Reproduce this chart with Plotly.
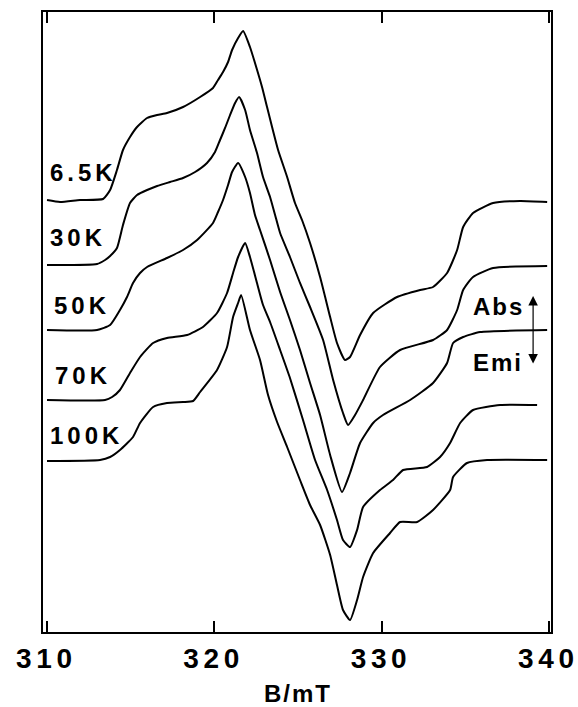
import plotly.graph_objects as go

# EPR spectra, B in mT, intensity in arbitrary units (relative to each baseline)
temps = ["6.5K", "30K", "50K", "70K", "100K"]
offsets = [4.32, 3.67, 3.02, 2.32, 1.71]

b_65 = [310.0, 310.78, 311.97, 313.35, 313.77, 314.18, 314.54, 314.96, 315.38, 315.98, 316.58, 317.17,
        318.13, 319.15, 319.92, 320.22, 320.52, 320.82, 321.06, 321.42, 321.72, 322.13, 322.43, 322.85,
        323.15, 323.45, 323.81, 324.35, 324.82, 325.24, 325.72, 326.32, 326.92, 327.33, 327.81, 328.11,
        328.71, 329.49, 330.92, 332.30, 333.07, 333.91, 334.51, 334.87, 335.46, 336.66, 338.27, 339.89]
i_65 = [0, -0.02, 0, 0.01, 0.10, 0.30, 0.50, 0.63, 0.73, 0.82, 0.85, 0.87, 0.93, 1.03, 1.12, 1.20, 1.28,
        1.38, 1.50, 1.62, 1.69, 1.53, 1.37, 1.13, 0.93, 0.73, 0.50, 0.23, -0.03, -0.20, -0.43, -0.77,
        -1.17, -1.43, -1.60, -1.57, -1.35, -1.13, -0.97, -0.90, -0.87, -0.73, -0.50, -0.27, -0.13, -0.03,
        -0.01, -0.02]

b_30 = [310.0, 312.99, 313.47, 313.77, 314.18, 314.54, 314.96, 315.38, 315.98, 316.58, 317.35, 318.13,
        318.85, 319.56, 320.04, 320.34, 320.64, 320.94, 321.24, 321.48, 321.84, 322.13, 322.55, 322.91,
        323.33, 323.63, 323.93, 324.52, 325.12, 325.72, 326.50, 327.10, 327.69, 327.99, 328.41, 328.89,
        329.90, 331.10, 333.07, 333.91, 334.51, 334.87, 335.46, 336.66, 339.89]
i_30 = [0, 0.01, 0.05, 0.09, 0.17, 0.40, 0.62, 0.70, 0.75, 0.79, 0.83, 0.87, 0.93, 1.02, 1.13, 1.25, 1.37,
        1.50, 1.62, 1.68, 1.55, 1.35, 1.12, 0.88, 0.68, 0.50, 0.32, 0.08, -0.18, -0.42, -0.75, -1.15,
        -1.48, -1.60, -1.50, -1.35, -1.02, -0.85, -0.75, -0.65, -0.45, -0.25, -0.12, -0.03, -0.01]

b_50 = [310.0, 312.99, 313.77, 314.36, 314.78, 315.14, 315.56, 315.98, 317.17, 318.13, 318.97, 319.92,
        320.22, 320.52, 320.82, 321.06, 321.42, 321.84, 322.13, 322.43, 322.73, 323.33, 323.93, 324.52,
        325.12, 325.72, 326.32, 326.92, 327.63, 328.11, 328.71, 329.49, 330.08, 331.70, 333.07, 333.91,
        334.27, 334.87, 335.88, 339.89]
i_50 = [0, 0, 0.05, 0.20, 0.33, 0.47, 0.57, 0.63, 0.72, 0.80, 0.90, 1.07, 1.18, 1.30, 1.45, 1.58, 1.67,
        1.53, 1.37, 1.15, 1.00, 0.70, 0.38, 0.10, -0.20, -0.53, -0.85, -1.25, -1.62, -1.43, -1.13, -0.93,
        -0.85, -0.70, -0.53, -0.33, -0.13, -0.07, -0.02, 0]

b_70 = [310.0, 313.47, 313.89, 314.36, 314.96, 315.56, 316.34, 317.17, 318.37, 319.32, 320.16, 320.76,
        321.12, 321.42, 321.84, 322.13, 322.55, 322.91, 323.33, 323.93, 324.52, 325.30, 326.02, 326.74,
        327.33, 327.69, 328.11, 328.53, 328.89, 329.90, 330.68, 331.28, 332.71, 333.49, 334.09, 334.69,
        335.46, 337.08, 339.29]
i_70 = [0, 0, 0.03, 0.10, 0.27, 0.43, 0.57, 0.62, 0.65, 0.73, 0.87, 1.07, 1.27, 1.43, 1.57, 1.43, 1.17,
        0.95, 0.78, 0.50, 0.22, -0.20, -0.60, -0.90, -1.20, -1.40, -1.47, -1.30, -1.07, -0.90, -0.80,
        -0.70, -0.67, -0.57, -0.43, -0.23, -0.10, -0.05, -0.05]

b_100 = [310.0, 313.17, 313.77, 314.36, 315.14, 315.56, 316.34, 317.17, 318.13, 318.73, 319.15, 320.16,
         320.76, 321.12, 321.42, 321.60, 322.13, 322.73, 323.21, 323.75, 324.35, 325.12, 325.72, 326.32,
         326.92, 327.33, 327.69, 328.11, 328.53, 328.89, 329.49, 330.50, 331.10, 332.12, 333.07, 334.09,
         334.27, 335.10, 336.30, 339.89]
i_100 = [0, 0.01, 0.04, 0.11, 0.24, 0.38, 0.54, 0.58, 0.59, 0.60, 0.69, 0.91, 1.14, 1.44, 1.58, 1.66,
         1.31, 1.01, 0.66, 0.39, 0.14, -0.19, -0.44, -0.64, -0.94, -1.24, -1.49, -1.59, -1.39, -1.16,
         -0.92, -0.72, -0.61, -0.61, -0.49, -0.29, -0.16, -0.02, 0.01, 0.01]

tick_vals = [310, 320, 330, 340]
tick_text = ["3\u20061\u20060", "3\u20062\u20060", "3\u20063\u20060", "3\u20064\u20060"]

label_x = [310.06, 310.06, 310.30, 310.36, 310.06]
label_y = [4.60, 3.95, 3.27, 2.57, 1.97]

fields = [b_65, b_30, b_50, b_70, b_100]
ints = [i_65, i_30, i_50, i_70, i_100]

FONT = "Liberation Sans, Arial, sans-serif"

fig = go.Figure()
for name, b, it, off in zip(temps, fields, ints, offsets):
    fig.add_trace(go.Scatter(x=b, y=[v + off for v in it], mode="lines", name=name,
                             line=dict(color="black", width=2, shape="spline", smoothing=0.5),
                             showlegend=False, hoverinfo="skip"))

annotations = []
for name, x, y in zip(temps, label_x, label_y):
    annotations.append(dict(x=x, y=y, xref="x", yref="y", text="\u2006".join(name),
                            showarrow=False, xanchor="left", yanchor="middle",
                            font=dict(family=FONT, size=24, color="black", weight="bold")))

annotations.append(dict(x=336.93, y=3.26, xref="x", yref="y", text="A\u200ab\u200as", showarrow=False,
                        xanchor="center", yanchor="middle",
                        font=dict(family=FONT, size=24, color="black", weight="bold")))
annotations.append(dict(x=336.87, y=2.70, xref="x", yref="y", text="E\u200am\u200ai", showarrow=False,
                        xanchor="center", yanchor="middle",
                        font=dict(family=FONT, size=24, color="black", weight="bold")))
annotations.append(dict(x=339.05, y=3.36, ax=339.05, ay=2.67, xref="x", yref="y", axref="x", ayref="y",
                        text="", showarrow=True, arrowhead=2, startarrowhead=2, arrowside="end+start",
                        arrowsize=1.6, startarrowsize=1.6, arrowwidth=1.2, arrowcolor="black"))

fig.update_layout(
    width=578, height=707,
    margin=dict(l=43, r=27, t=12, b=75, autoexpand=False),
    paper_bgcolor="white", plot_bgcolor="white",
    annotations=annotations,
    xaxis=dict(range=[309.76, 340.12], tickvals=tick_vals, ticktext=tick_text, automargin=False,
               ticks="inside", ticklen=11, tickwidth=1.5, tickcolor="black", ticklabelshift=-3,
               showline=True, linecolor="black", linewidth=2, mirror="ticks",
               showgrid=False, zeroline=False,
               tickfont=dict(family=FONT, size=28, color="black", weight="bold"),
               title=dict(text="B\u200a/\u200am\u200aT", standoff=16,
                          font=dict(family=FONT, size=24, color="black", weight="bold"))),
    yaxis=dict(range=[0, 6.20], showticklabels=False, ticks="", showgrid=False, zeroline=False,
               automargin=False, showline=True, linecolor="black", linewidth=2, mirror=True),
)

fig.write_html("out.html", config={"displayModeBar": False},
               post_script="document.body.style.margin='0';document.body.style.overflow='hidden';")
